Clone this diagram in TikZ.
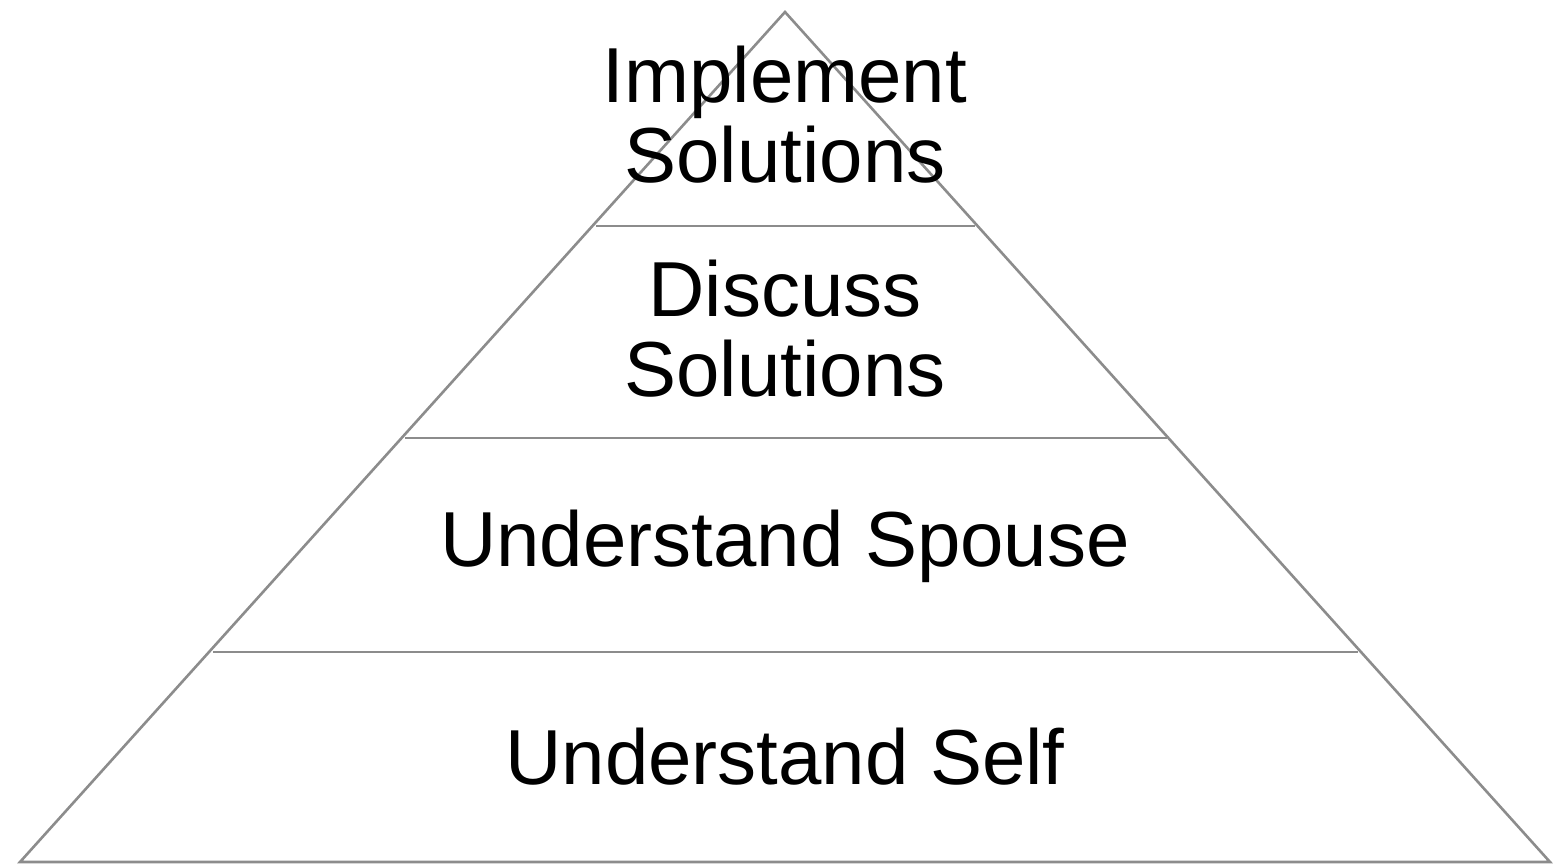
\documentclass[tikz,border=0pt]{standalone}
\usepackage{fontspec}
\setmainfont{Liberation Sans}

\tikzset{
  level/.style={align=center, font=\fontsize{39}{40}\selectfont},
  edge/.style={draw=black!45, line width=1.3pt}
}

\begin{document}
\begin{tikzpicture}[x=0.5pt, y=-0.5pt]
    \useasboundingbox (0,0) rectangle (1553,866);
    % outline of the pyramid
    \coordinate (top) at (785,12);
    \coordinate (bl) at (20,862);
    \coordinate (br) at (1550,862);
    \draw[edge] (bl) -- (top) -- (br) -- cycle;
    % dividing lines
    \draw[edge] (596,226) -- (975,226);
    \draw[edge] (405,438) -- (1167,438);
    \draw[edge] (213,652) -- (1358,652);
    % labels
    \node[level] (implement) at (785,115) {Implement\\Solutions};
    \node[level] (discuss) at (785,329) {Discuss\\Solutions};
    \node[level] (spouse) at (785,546) {Understand Spouse};
    \node[level] (self) at (785,757) {Understand Self};
  \end{tikzpicture}
\end{document}
